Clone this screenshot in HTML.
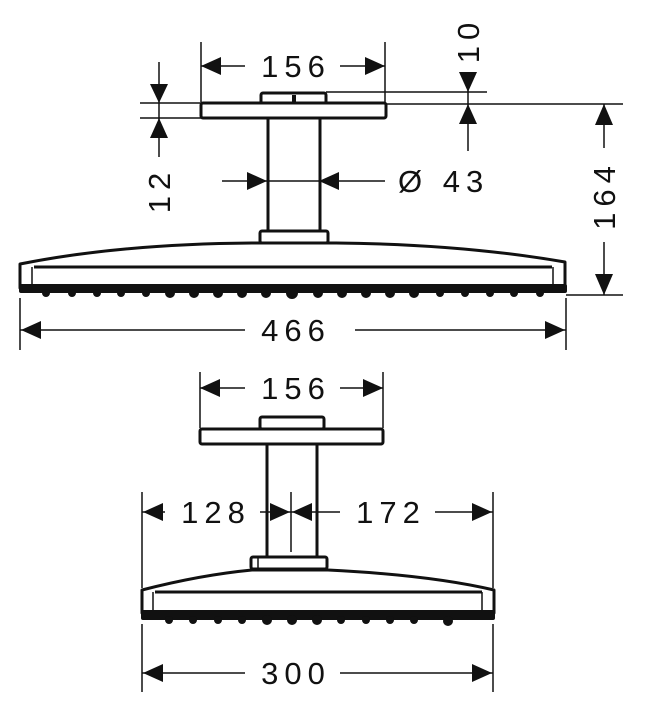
<!DOCTYPE html>
<html><head><meta charset="utf-8"><style>
html,body{margin:0;padding:0;background:#fff;width:645px;height:724px;overflow:hidden}
svg{display:block}
text{font-family:"Liberation Sans",sans-serif;font-size:31px;fill:#111;letter-spacing:6px}
</style></head><body>
<svg width="645" height="724" viewBox="0 0 645 724" xmlns="http://www.w3.org/2000/svg">
<defs>
<g id="bumps"></g>
</defs>
<g stroke="#111" stroke-width="1.5" fill="none">
<!-- TOP: extension lines -->
<line x1="201" y1="42" x2="201" y2="102"/>
<line x1="385" y1="42" x2="385" y2="102"/>
<line x1="326" y1="92" x2="487" y2="92"/>
<line x1="386" y1="104" x2="623" y2="104"/>
<line x1="140" y1="103" x2="201" y2="103"/>
<line x1="140" y1="118" x2="201" y2="118"/>
<line x1="566" y1="295" x2="623" y2="295"/>
<line x1="20" y1="298" x2="20" y2="350"/>
<line x1="566" y1="298" x2="566" y2="350"/>
<!-- dim lines -->
<line x1="201" y1="66" x2="245" y2="66"/><line x1="340" y1="66" x2="385" y2="66"/>
<line x1="468" y1="72" x2="468" y2="151"/>
<line x1="159" y1="62" x2="159" y2="157"/>
<line x1="604" y1="104" x2="604" y2="148"/><line x1="604" y1="242" x2="604" y2="295"/>
<line x1="222" y1="181" x2="385" y2="181"/>
<line x1="20" y1="330" x2="245" y2="330"/><line x1="355" y1="330" x2="566" y2="330"/>
<!-- BOTTOM -->
<line x1="200" y1="372" x2="200" y2="428"/>
<line x1="383" y1="372" x2="383" y2="428"/>
<line x1="200" y1="388" x2="245" y2="388"/><line x1="340" y1="388" x2="383" y2="388"/>
<line x1="142" y1="492" x2="142" y2="588"/>
<line x1="493" y1="492" x2="493" y2="588"/>
<line x1="291" y1="492" x2="291" y2="552"/>
<line x1="142" y1="512" x2="165" y2="512"/>
<line x1="260" y1="512" x2="340" y2="512"/>
<line x1="435" y1="512" x2="493" y2="512"/>
<line x1="142" y1="624" x2="142" y2="692"/>
<line x1="493" y1="624" x2="493" y2="692"/>
<line x1="142" y1="673" x2="245" y2="673"/><line x1="340" y1="673" x2="493" y2="673"/>
</g>
<!-- arrowheads -->
<g fill="#111">
<polygon points="201,66 221,57 221,75"/><polygon points="385,66 365,57 365,75"/>
<polygon points="468,92 459,72 477,72"/><polygon points="468,104 459,124 477,124"/>
<polygon points="159,103 150,84 168,84"/><polygon points="159,118 150,138 168,138"/>
<polygon points="604,104 595,125 613,125"/><polygon points="604,295 595,274 613,274"/>
<polygon points="267,181 247,172 247,190"/><polygon points="319,181 339,172 339,190"/>
<polygon points="21,330 41,321 41,339"/><polygon points="565,330 545,321 545,339"/>
<polygon points="200,388 220,379 220,397"/><polygon points="383,388 363,379 363,397"/>
<polygon points="143,512 163,503 163,521"/><polygon points="492,512 472,503 472,521"/>
<polygon points="290,512 270,503 270,521"/><polygon points="292,512 312,503 312,521"/>
<polygon points="143,673 163,664 163,682"/><polygon points="492,673 472,664 472,682"/>
</g>
<!-- TOP shower -->
<g stroke="#111" stroke-width="3" fill="#fff" stroke-linejoin="round">
<rect x="261" y="93" width="65" height="11" rx="2"/>
<rect x="201" y="103" width="185" height="15" rx="2"/>
<line x1="268" y1="118" x2="268" y2="232"/>
<line x1="320" y1="118" x2="320" y2="232"/>
<rect x="260" y="231" width="68" height="12" rx="2"/>
<path d="M20,264 Q120,244 252,243 L336,243 Q460,244 565,262 L565,288 L20,288 Z"/>
<line x1="34" y1="267" x2="552" y2="267"/>
</g>
<line x1="32" y1="267" x2="32" y2="285" stroke="#111" stroke-width="1.5"/>
<line x1="553" y1="267" x2="553" y2="285" stroke="#111" stroke-width="1.5"/>
<line x1="294" y1="95" x2="294" y2="103" stroke="#111" stroke-width="4"/>
<rect x="19" y="284" width="548" height="9" rx="2" fill="#111"/>
<g fill="#111">
<circle cx="46" cy="293" r="4"/><circle cx="72" cy="293" r="4"/><circle cx="97" cy="293" r="4"/><circle cx="121" cy="293" r="4"/><circle cx="146" cy="293" r="4"/><circle cx="170" cy="293" r="5"/><circle cx="194" cy="293" r="5"/><circle cx="218" cy="293" r="5"/><circle cx="242" cy="293" r="5"/><circle cx="266" cy="293" r="5"/><circle cx="292" cy="293" r="6"/><circle cx="318" cy="293" r="5"/><circle cx="342" cy="293" r="5"/><circle cx="366" cy="293" r="5"/><circle cx="390" cy="293" r="5"/><circle cx="414" cy="293" r="5"/><circle cx="440" cy="293" r="4"/><circle cx="465" cy="293" r="4"/><circle cx="490" cy="293" r="4"/><circle cx="514" cy="293" r="4"/><circle cx="540" cy="293" r="4"/>
</g>
<!-- BOTTOM shower -->
<g stroke="#111" stroke-width="3" fill="#fff" stroke-linejoin="round">
<rect x="260" y="417" width="64" height="12" rx="2"/>
<rect x="200" y="429" width="183" height="15" rx="2"/>
<line x1="267" y1="444" x2="267" y2="557"/>
<line x1="317" y1="444" x2="317" y2="557"/>
<rect x="251" y="557" width="76" height="12" rx="2"/>
<path d="M142,590 Q200,575 252,570 L328,570 Q430,575 494,590 L494,613 L142,613 Z"/>
<line x1="155" y1="592" x2="482" y2="592"/>
</g>
<line x1="258" y1="558" x2="258" y2="569" stroke="#111" stroke-width="1.5"/>
<line x1="153" y1="592" x2="153" y2="611" stroke="#111" stroke-width="1.5"/>
<line x1="482" y1="592" x2="482" y2="611" stroke="#111" stroke-width="1.5"/>
<rect x="141" y="610" width="354" height="10" rx="2" fill="#111"/>
<g fill="#111">
<circle cx="169" cy="620" r="4"/><circle cx="193" cy="620" r="4"/><circle cx="218" cy="620" r="4"/><circle cx="242" cy="620" r="4"/><circle cx="267" cy="620" r="5"/><circle cx="292" cy="620" r="5"/><circle cx="317" cy="620" r="5"/><circle cx="341" cy="620" r="4"/><circle cx="366" cy="620" r="4"/><circle cx="390" cy="620" r="4"/><circle cx="414" cy="620" r="4"/><circle cx="448" cy="621" r="5"/>
</g>
<!-- labels -->
<text x="296" y="77" text-anchor="middle">156</text>
<text x="296" y="399" text-anchor="middle">156</text>
<text x="296" y="341" text-anchor="middle">466</text>
<text x="296" y="684" text-anchor="middle">300</text>
<text x="216" y="523" text-anchor="middle">128</text>
<text x="391" y="523" text-anchor="middle">172</text>
<text x="398" y="192">Ø 43</text>
<text transform="translate(479,40) rotate(-90)" text-anchor="middle">10</text>
<text transform="translate(170,190) rotate(-90)" text-anchor="middle">12</text>
<text transform="translate(615,195) rotate(-90)" text-anchor="middle">164</text>
</svg>
</body></html>
